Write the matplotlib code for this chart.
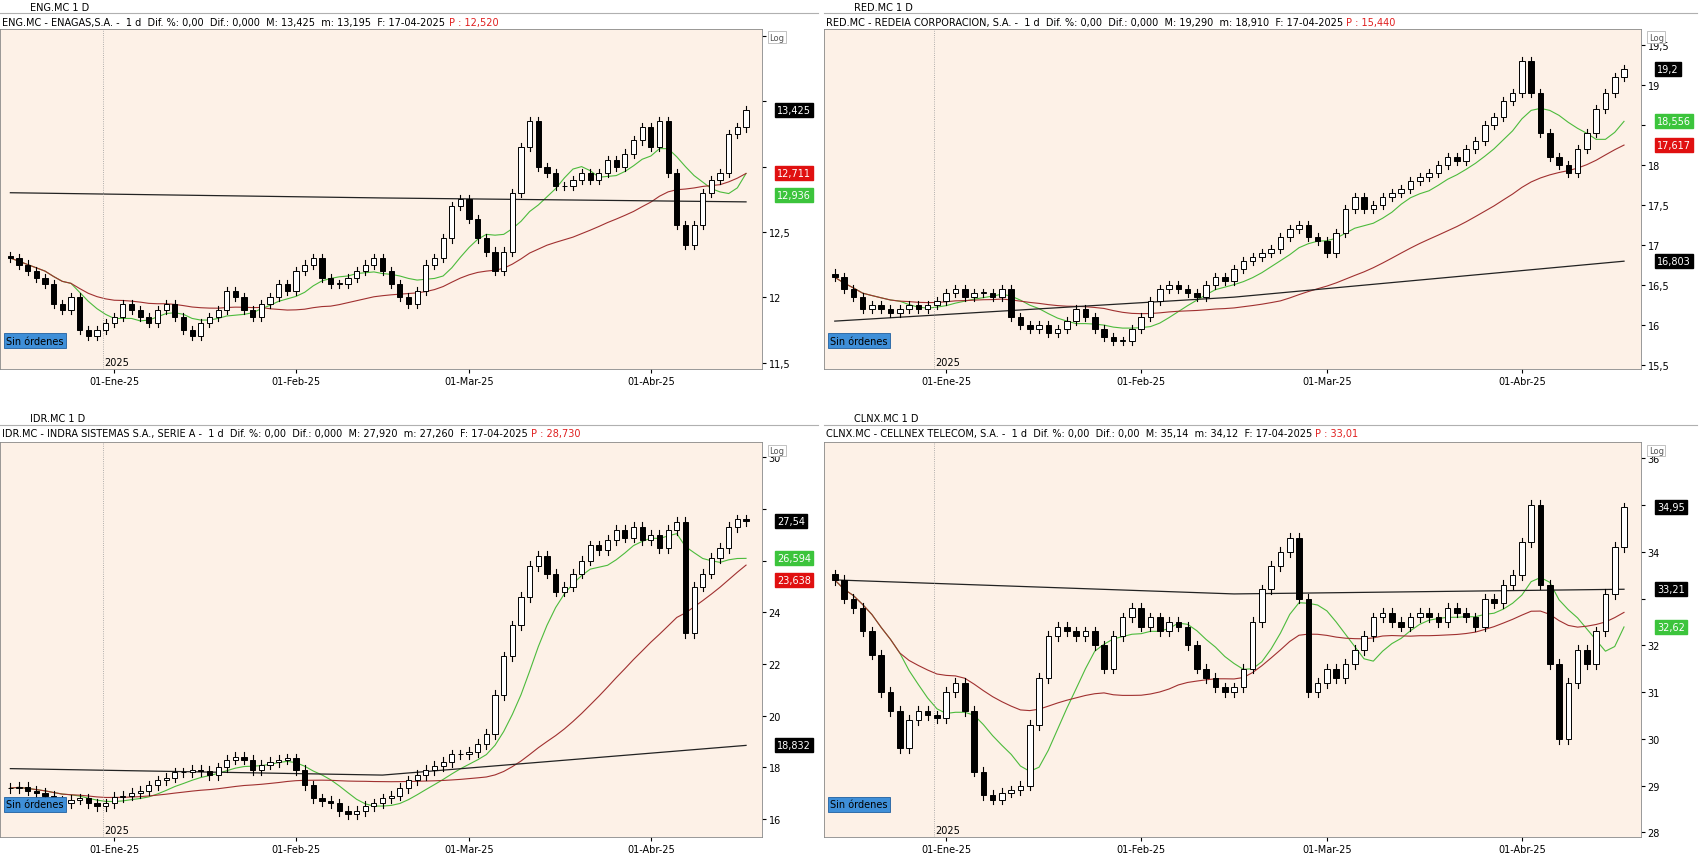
import numpy as np
import pandas as pd
import matplotlib
matplotlib.use("Agg")
from matplotlib import pyplot as plt
from matplotlib.patches import Rectangle

W, H = 1568.0, 792.0
BG = "#fdf1e7"

# closes per trading day, 13-dic-2024 .. 17-abr-2025
eng_c = [12.3,12.25,12.2,12.15,12.1,11.95,11.9,12.0,11.75,11.7,11.75,11.8,
         11.85,11.95,11.9,11.85,11.8,11.9,11.95,11.85,11.75,11.7,11.8,11.85,11.9,12.05,12.0,11.9,11.85,11.95,12.0,12.1,12.05,
         12.2,12.25,12.3,12.15,12.1,12.1,12.15,12.2,12.25,12.3,12.2,12.1,12.0,11.95,12.05,12.25,12.3,12.45,12.7,12.75,
         12.6,12.45,12.35,12.2,12.35,12.8,13.15,13.35,13.0,12.95,12.85,12.85,12.9,12.95,12.9,12.95,13.05,13.0,13.1,13.2,13.3,
         13.15,13.35,12.95,12.55,12.4,12.55,12.8,12.9,12.95,13.25,13.3,13.43]
red_c = [16.6,16.45,16.35,16.2,16.25,16.2,16.15,16.2,16.25,16.2,16.25,16.3,
         16.4,16.45,16.35,16.4,16.4,16.35,16.45,16.1,16.0,15.95,16.0,15.9,15.95,16.05,16.2,16.1,15.95,15.85,15.8,15.8,15.95,
         16.1,16.3,16.45,16.5,16.45,16.4,16.35,16.5,16.6,16.55,16.7,16.8,16.85,16.9,16.95,17.1,17.2,17.25,17.1,17.05,
         16.9,17.15,17.45,17.6,17.45,17.5,17.6,17.65,17.7,17.8,17.85,17.9,18.0,18.1,18.05,18.2,18.3,18.5,18.6,18.8,18.9,
         19.3,18.9,18.4,18.1,18.0,17.9,18.2,18.4,18.7,18.9,19.1,19.2]
idr_c = [17.2,17.25,17.1,17.0,16.9,16.7,16.6,16.75,16.8,16.6,16.5,16.6,
         16.85,16.9,17.0,17.1,17.3,17.5,17.6,17.8,17.8,17.9,17.85,17.7,18.0,18.3,18.4,18.3,17.9,18.1,18.2,18.3,18.35,
         17.9,17.3,16.8,16.7,16.6,16.3,16.2,16.3,16.5,16.6,16.8,16.9,17.2,17.5,17.7,17.9,18.05,18.2,18.5,18.5,
         18.6,18.9,19.3,20.8,22.3,23.5,24.6,25.8,26.2,25.5,24.8,25.0,25.5,26.0,26.6,26.4,26.8,27.2,26.9,27.3,26.8,
         27.0,26.5,27.2,27.5,23.2,25.0,25.5,26.1,26.5,27.3,27.6,27.54]
clnx_c = [33.4,33.0,32.8,32.3,31.8,31.0,30.6,29.8,30.4,30.6,30.5,30.45,
          31.0,31.2,30.6,29.3,28.8,28.7,28.85,28.9,29.0,30.3,31.3,32.2,32.4,32.3,32.2,32.3,32.0,31.5,32.2,32.6,32.8,
          32.4,32.6,32.3,32.5,32.4,32.0,31.5,31.3,31.1,31.0,31.1,31.5,32.5,33.2,33.7,34.0,34.3,33.0,31.0,31.2,
          31.5,31.3,31.6,31.9,32.2,32.6,32.7,32.5,32.4,32.6,32.7,32.6,32.5,32.8,32.7,32.6,32.4,33.0,32.9,33.3,33.5,
          34.2,35.0,33.3,31.6,30.0,31.2,31.9,31.6,32.3,33.1,34.1,34.95]

# long moving average (black) read at start / middle / end
eng_long = [12.8, 12.76, 12.73]
red_long = [16.05, 16.35, 16.8]
idr_long = [17.95, 17.7, 18.85]
clnx_long = [33.4, 33.1, 33.2]

month_idx = [12, 33, 53, 74]
month_lbl = ["01-Ene-25", "01-Feb-25", "01-Mar-25", "01-Abr-25"]

fig = plt.figure(figsize=(17.06, 8.62), dpi=100)
fig.patch.set_facecolor("white")
renderer = fig.canvas.get_renderer()


def ax_px(x0, y0, x1, y1):
    return fig.add_axes([x0 / W, 1 - y1 / H, (x1 - x0) / W, (y1 - y0) / H])


def panel(x0, x1, ytab, ytop, ybot, tab, header, ptxt, closes, longma,
          ylim, yticks, ytl, last_lbl, labels):
    # tab strip
    fig.text((x0 + 28) / W, 1 - (ytab + 7) / H, tab, fontsize=7, va="center")
    fig.add_artist(plt.Line2D([x0 / W, x1 / W], [1 - (ytab + 13) / H] * 2, color="#b0b0b0", lw=0.8))
    ht = fig.text((x0 + 2) / W, 1 - (ytab + 21) / H, header, fontsize=7, va="center")
    bb = ht.get_window_extent(renderer)
    fig.text(bb.x1 / fig.bbox.width + 0.002, 1 - (ytab + 21) / H, ptxt, fontsize=7,
             va="center", color="#e02020")
    ax = ax_px(x0, ytop, x1 - 52, ybot)
    ax.set_facecolor(BG)
    n = len(closes)
    c = np.array(closes)
    o = np.r_[c[0] + 0.3 * (c[0] - c[1]), c[:-1]]
    rng = ylim[1] - ylim[0]
    hi = np.maximum(o, c) + rng * 0.012
    lo = np.minimum(o, c) - rng * 0.012
    for i in range(n):
        ax.plot([i, i], [lo[i], hi[i]], color="black", lw=0.8, zorder=2)
        b0, b1 = min(o[i], c[i]), max(o[i], c[i])
        ax.add_patch(Rectangle((i - 0.3, b0), 0.6, max(b1 - b0, rng * 0.002),
                               facecolor="white" if c[i] >= o[i] else "black",
                               edgecolor="black", lw=0.7, zorder=3))
    s = pd.Series(c)
    g = s.rolling(8, min_periods=1).mean()
    r = s.rolling(30, min_periods=1).mean()
    ax.plot(range(n), g, color="#4cbb3c", lw=0.8, zorder=1)
    ax.plot(range(n), r, color="#a03030", lw=0.8, zorder=1)
    ax.plot([0, n // 2, n - 1], longma, color="#222222", lw=0.9, zorder=1)
    ax.axvline(month_idx[0] - 1.3, color="#999999", lw=0.6, ls=":")
    ax.set_xlim(-1.2, n + 0.8)
    ax.set_ylim(*ylim)
    ax.yaxis.tick_right()
    ax.set_xticks(month_idx)
    ax.set_xticklabels(month_lbl, fontsize=7)
    ax.tick_params(length=3, pad=2)
    for sp in ax.spines.values():
        sp.set_color("#888888")
        sp.set_linewidth(0.6)
    ax.text(month_idx[0] - 1.2, ylim[0] + rng * 0.005, "2025", fontsize=7, va="bottom")
    ax.text(0.008, 0.075, "Sin órdenes", transform=ax.transAxes, fontsize=7, color="black",
            bbox=dict(boxstyle="square,pad=0.25", fc="#3f8fd8", ec="#2060a0", lw=0.6))
    ax.text(1.01, 0.99, "Log", transform=ax.transAxes, fontsize=6, va="top", color="#555555",
            bbox=dict(fc="white", ec="#aaaaaa", lw=0.5, pad=1))
    # value boxes, pushed apart so they do not overlap
    vals = [((c[-1] - ylim[0]) / rng, last_lbl, "black"), ((g.iloc[-1] - ylim[0]) / rng, labels[0], "#3cc43c"),
            ((r.iloc[-1] - ylim[0]) / rng, labels[1], "#e01010"), ((longma[-1] - ylim[0]) / rng, labels[2], "black")]
    vals = sorted([v for v in vals if v[1]], key=lambda v: -v[0])
    gap = 20.0 / (ybot - ytop)
    pos = []
    for yv, lbl, fc in vals:
        if pos and pos[-1] - yv < gap:
            yv = pos[-1] - gap
        pos.append(yv)
        ax.text(1.02, yv, lbl, transform=ax.transAxes, fontsize=7,
                color="white", va="center", bbox=dict(fc=fc, ec=fc, pad=1.5))
    # tick labels hidden where a value box covers them
    shown = [lbl if all(abs((t - ylim[0]) / rng - p) > 14.0 / (ybot - ytop) for p in pos) else ""
             for t, lbl in zip(yticks, ytl)]
    ax.set_yticks(yticks)
    ax.set_yticklabels(shown, fontsize=7)
    return ax


panel(0, 752, 0, 28, 340, "ENG.MC 1 D",
      "ENG.MC - ENAGAS,S.A. -  1 d  Dif. %: 0,00  Dif.: 0,000  M: 13,425  m: 13,195  F: 17-04-2025",
      "P : 12,520", eng_c, eng_long, (11.45, 14.05),
      [11.5, 12, 12.5, 13, 13.5, 14], ["11,5", "12", "12,5", "13", "13,5", "14"],
      "13,425", ["12,936", "12,711", None])
panel(757, 1560, 0, 28, 340, "RED.MC 1 D",
      "RED.MC - REDEIA CORPORACION, S.A. -  1 d  Dif. %: 0,00  Dif.: 0,000  M: 19,290  m: 18,910  F: 17-04-2025",
      "P : 15,440", red_c, red_long, (15.45, 19.7),
      [15.5, 16, 16.5, 17, 17.5, 18, 18.5, 19, 19.5],
      ["15,5", "16", "16,5", "17", "17,5", "18", "18,5", "19", "19,5"],
      "19,2", ["18,556", "17,617", "16,803"])
panel(0, 752, 378, 407, 770, "IDR.MC 1 D",
      "IDR.MC - INDRA SISTEMAS S.A., SERIE A -  1 d  Dif. %: 0,00  Dif.: 0,000  M: 27,920  m: 27,260  F: 17-04-2025",
      "P : 28,730", idr_c, idr_long, (15.3, 30.6),
      [16, 18, 20, 22, 24, 26, 28, 30], ["16", "18", "20", "22", "24", "26", "28", "30"],
      "27,54", ["26,594", "23,638", "18,832"])
panel(757, 1560, 378, 407, 770, "CLNX.MC 1 D",
      "CLNX.MC - CELLNEX TELECOM, S.A. -  1 d  Dif. %: 0,00  Dif.: 0,00  M: 35,14  m: 34,12  F: 17-04-2025",
      "P : 33,01", clnx_c, clnx_long, (27.9, 36.35),
      [28, 29, 30, 31, 32, 33, 34, 35, 36], ["28", "29", "30", "31", "32", "33", "34", "35", "36"],
      "34,95", ["32,62", None, "33,21"])

plt.savefig("out.png", dpi=100)
